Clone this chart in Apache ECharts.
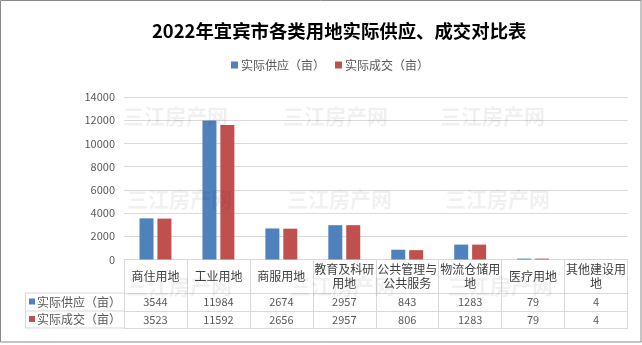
<!DOCTYPE html>
<html>
<head>
<meta charset="utf-8">
<script src="https://cdn.jsdelivr.net/npm/echarts@6/dist/echarts.min.js"></script>
<style>
html,body{margin:0;padding:0;background:#fff;}
#c{width:642px;height:345px;}
</style>
</head>
<body>
<div id="c"></div>
<script>
const title = '2022年宜宾市各类用地实际供应、成交对比表';
const categories = ['商住用地','工业用地','商服用地','教育及科研用地','公共管理与公共服务','物流仓储用地','医疗用地','其他建设用地'];
const seriesNames = ['实际供应（亩）','实际成交（亩）'];
const supply = [3544, 11984, 2674, 2957, 843, 1283, 79, 4];
const deal = [3523, 11592, 2656, 2957, 806, 1283, 79, 4];
const yTicks = [0, 2000, 4000, 6000, 8000, 10000, 12000, 14000];
const watermark = '三江房产网';

const colors = ['#4f81bd', '#c0504d'];
const lineColor = '#d9d9d9';
const textColor = '#595959';
const cjk = '"Noto Sans CJK SC", "Microsoft YaHei", sans-serif';

const chart = echarts.init(document.getElementById('c'), null, {renderer: 'canvas'});

const gridLeft = 124, gridRight = 14.5, gridTop = 97, gridBottom = 85.5;
const axisY = 345 - gridBottom;
const row1 = 33.5, row2 = 51.5, row3 = 68.5;

function tableAxis(values, offset, show) {
  return {
    type: 'category',
    position: 'bottom',
    offset: offset,
    data: values.map(String),
    gridIndex: 0,
    axisLine: {show: true, lineStyle: {color: lineColor, width: 1}},
    axisTick: {show: false},
    axisLabel: {
      show: show, interval: 0, margin: 9, verticalAlign: 'middle',
      fontSize: 11, color: textColor, fontFamily: cjk
    },
    splitLine: {show: false}
  };
}

const graphics = [];
// outer border
graphics.push({type: 'rect', shape: {x: 0.5, y: 0.5, width: 640.5, height: 341.5},
  style: {fill: null, stroke: '#8a8a8a', lineWidth: 1}, z: 100});
// watermarks
const wmPos = [[123,106],[283,106],[440,106],[127,189],[287,189],[445,189],[127,276],[290,276],[448,276]];
wmPos.forEach(p => graphics.push({type: 'text', x: p[0], y: p[1], z: 50, silent: true,
  style: {text: watermark, font: 'bold 21px ' + cjk, fill: 'rgba(0,0,0,0.06)'}}));
// left column of the table
const tx0 = 25;
[axisY + row1, axisY + row2, axisY + row3].forEach(y => graphics.push({type: 'line',
  shape: {x1: tx0, y1: y, x2: gridLeft, y2: y}, style: {stroke: lineColor, lineWidth: 1}}));
graphics.push({type: 'line', shape: {x1: tx0 + 0.5, y1: axisY + row1, x2: tx0 + 0.5, y2: axisY + row3},
  style: {stroke: lineColor, lineWidth: 1}});
seriesNames.forEach((n, i) => {
  const yc = axisY + (i === 0 ? (row1 + row2) / 2 : (row2 + row3) / 2);
  graphics.push({type: 'rect', shape: {x: 29, y: yc - 3.5, width: 6, height: 6}, style: {fill: colors[i]}});
  graphics.push({type: 'text', x: 37, y: yc, style: {text: n, font: '12px ' + cjk, fill: textColor, verticalAlign: 'middle'}});
});

chart.setOption({
  animation: false,
  color: colors,
  title: {
    text: title, left: 147, top: 17,
    textStyle: {fontSize: 18.4, fontWeight: 'bold', color: '#000', fontFamily: cjk}
  },
  legend: {
    data: seriesNames, left: 226, top: 54, icon: 'rect', itemWidth: 7, itemHeight: 7, itemGap: 10,
    textStyle: {fontSize: 12, color: textColor, fontFamily: cjk, padding: [0, 0, 0, -2]}
  },
  grid: {left: gridLeft, right: gridRight, top: gridTop, bottom: gridBottom, containLabel: false},
  xAxis: [
    {
      type: 'category', data: categories, position: 'bottom',
      axisLine: {show: true, lineStyle: {color: lineColor, width: 1}},
      axisTick: {show: true, alignWithLabel: false, length: row3, lineStyle: {color: lineColor}},
      axisLabel: {
        interval: 0, width: 62, overflow: 'break', margin: 16.5, verticalAlign: 'middle',
        lineHeight: 14, fontSize: 12, color: '#404040', fontFamily: cjk
      }
    },
    tableAxis(supply, row1, true),
    tableAxis(deal, row2, true),
    tableAxis(deal, row3, false)
  ],
  yAxis: {
    type: 'value', min: 0, max: 14000, interval: 2000,
    axisLine: {show: false}, axisTick: {show: false},
    axisLabel: {margin: 9, fontSize: 11, color: textColor, fontFamily: cjk,
      formatter: v => yTicks.indexOf(v) >= 0 ? String(v) : ''},
    splitLine: {lineStyle: {color: lineColor, width: 1}}
  },
  series: [
    {name: seriesNames[0], type: 'bar', data: supply, xAxisIndex: 0, barWidth: 14, barGap: '28%', z: 10},
    {name: seriesNames[1], type: 'bar', data: deal, xAxisIndex: 0, barWidth: 14, barGap: '28%', z: 10}
  ],
  graphic: graphics
});
</script>
</body>
</html>
